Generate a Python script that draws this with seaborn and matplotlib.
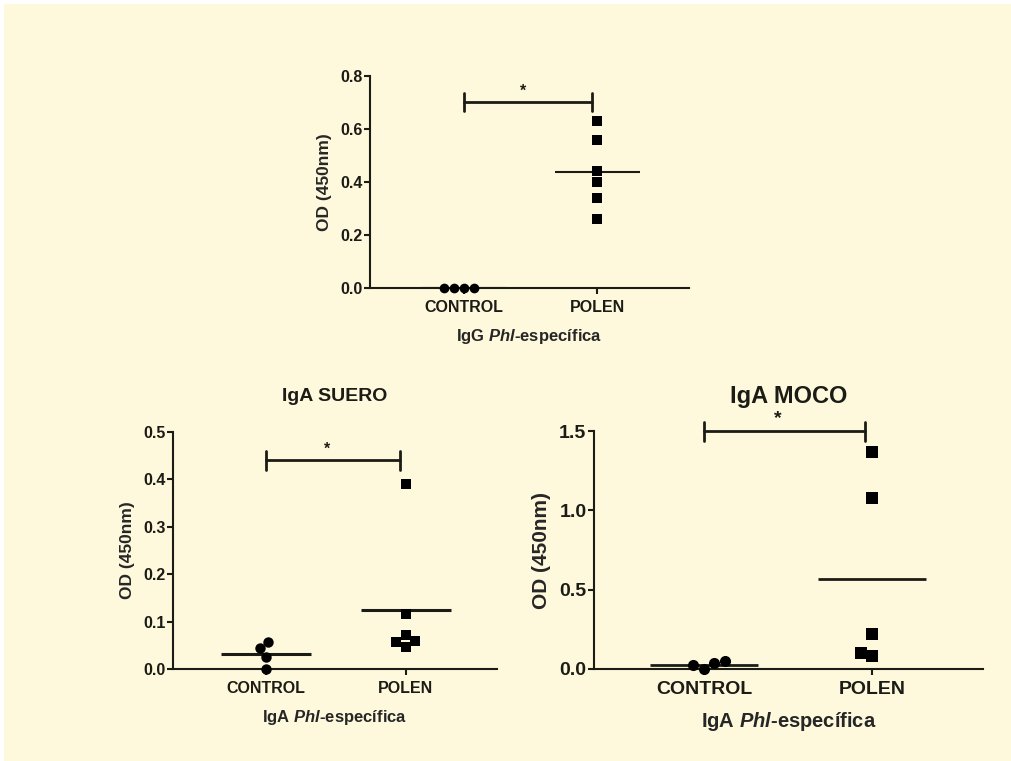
import matplotlib
matplotlib.use("Agg")
import matplotlib.pyplot as plt
import seaborn as sns
import pandas as pd
from matplotlib.patches import Rectangle

# data
groups = ["CONTROL", "POLEN"]
igg_control = [0.0, 0.0, 0.0, 0.0]
igg_polen = [0.63, 0.56, 0.44, 0.40, 0.34, 0.26]
suero_control = [0.057, 0.044, 0.026, 0.0]
suero_polen = [0.39, 0.115, 0.072, 0.060, 0.057, 0.047]
moco_control = [0.036, 0.0, 0.025, 0.052]
moco_polen = [1.37, 1.08, 0.22, 0.10, 0.08]

BG = "#FEF9DC"
INK = "#1c1c16"

sns.set_style("ticks")
plt.rcParams["font.family"] = ["Liberation Sans", "DejaVu Sans"]
plt.rcParams["font.weight"] = "bold"
plt.rcParams["mathtext.fontset"] = "custom"
plt.rcParams["mathtext.rm"] = "Liberation Sans:bold"
plt.rcParams["mathtext.it"] = "Liberation Sans:italic:bold"
plt.rcParams["axes.edgecolor"] = INK
plt.rcParams["text.color"] = INK
plt.rcParams["xtick.color"] = INK
plt.rcParams["ytick.color"] = INK


def make_df(control, polen):
    return pd.DataFrame({
        "grupo": ["CONTROL"] * len(control) + ["POLEN"] * len(polen),
        "od": list(control) + list(polen),
    })


def panel(ax, df, ylim, yticks, xlim, xlabel, sig_y, cap, fs, mean_lw, msize):
    ctrl = df[df["grupo"] == "CONTROL"]
    pol = df[df["grupo"] == "POLEN"]
    sns.swarmplot(data=ctrl, x="grupo", y="od", order=groups, ax=ax,
                  color="black", marker="o", size=msize, linewidth=0, clip_on=False)
    sns.swarmplot(data=pol, x="grupo", y="od", order=groups, ax=ax,
                  color="black", marker="s", size=msize, linewidth=0, clip_on=False)
    # mean lines
    for i, g in enumerate(groups):
        m = df.loc[df["grupo"] == g, "od"].mean()
        ax.hlines(m, i - 0.32, i + 0.32, color=INK, lw=mean_lw, zorder=1)

    # significance bracket
    ax.plot([0, 0.96], [sig_y, sig_y], color=INK, lw=2, clip_on=False)
    ax.plot([0, 0], [sig_y - cap, sig_y + cap], color=INK, lw=2, clip_on=False)
    ax.plot([0.96, 0.96], [sig_y - cap, sig_y + cap], color=INK, lw=2, clip_on=False)
    ax.text(0.44, sig_y + cap * 0.4, "*", ha="center", va="bottom", fontsize=fs)

    ax.set_facecolor(BG)
    ax.set_ylim(*ylim)
    ax.set_yticks(yticks)
    ax.yaxis.set_major_formatter(matplotlib.ticker.FormatStrFormatter("%.1f"))
    ax.set_xlim(*xlim)
    sns.despine(ax=ax)
    ax.spines["left"].set_linewidth(1.5)
    ax.spines["bottom"].set_linewidth(1.5)
    ax.tick_params(axis="both", width=1.5, length=4, labelsize=fs)
    ax.tick_params(axis="x", pad=5)
    ax.tick_params(axis="y", pad=1.5)
    ax.set_ylabel("OD (450nm)", fontsize=fs + 1, fontweight="bold", labelpad=6)
    ax.set_xlabel(xlabel, fontsize=fs + 0.5, fontweight="bold", labelpad=8)


fig = plt.figure(figsize=(10.12, 7.61), dpi=100, facecolor="white")
fig.patches.append(Rectangle((4 / 1012, 0), 1, 1 - 4 / 761, transform=fig.transFigure,
                             facecolor=BG, edgecolor="none", zorder=-10))

ax1 = fig.add_axes([0.3656, 0.6216, 0.3152, 0.2786])
ax2 = fig.add_axes([0.1709, 0.1209, 0.3202, 0.3114])
ax3 = fig.add_axes([0.5870, 0.1209, 0.3844, 0.3127])

panel(ax1, make_df(igg_control, igg_polen), (0, 0.8), [0, 0.2, 0.4, 0.6, 0.8],
      (-0.707, 1.69), "IgG $\\mathit{Phl}$-específica", 0.70, 0.034, 11.5, 1.5, 7)
panel(ax2, make_df(suero_control, suero_polen), (0, 0.5), [0, 0.1, 0.2, 0.3, 0.4, 0.5],
      (-0.664, 1.65), "IgA $\\mathit{Phl}$-específica", 0.44, 0.02, 11.5, 2.2, 7.5)
panel(ax3, make_df(moco_control, moco_polen), (0, 1.5), [0, 0.5, 1.0, 1.5],
      (-0.655, 1.66), "IgA $\\mathit{Phl}$-específica", 1.50, 0.06, 14, 2.0, 8)

ax2.set_title("IgA SUERO", fontsize=14, fontweight="bold", pad=22)
ax3.set_title("IgA MOCO", fontsize=17, fontweight="bold", pad=20)

fig.savefig("out.png", dpi=100, facecolor=fig.get_facecolor())
